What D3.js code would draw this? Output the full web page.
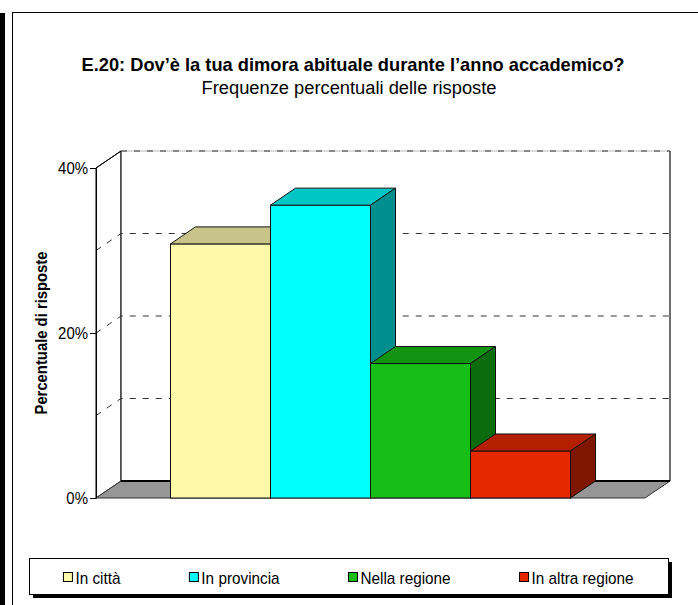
<!DOCTYPE html>
<html>
<head>
<meta charset="utf-8">
<script src="https://cdn.jsdelivr.net/npm/d3@7"></script>
<style>
  body { margin: 0; background: #fff; }
  svg { display: block; font-family: "Liberation Sans", Arial, sans-serif; }
</style>
</head>
<body>
<div id="chart"></div>
<script>
// data
const categories = ["In città", "In provincia", "Nella regione", "In altra regione"];
const values = [30.8, 35.5, 16.3, 5.7];
const tickValues = [0, 20, 40];
const gridValues = [10, 20, 30];
const titleText = "E.20: Dov\u2019è la tua dimora abituale durante l\u2019anno accademico?";
const subtitleText = "Frequenze percentuali delle risposte";
const yLabel = "Percentuale di risposte";

// colours: front, top, side
const fronts = ["#FFFAAA", "#00FFFF", "#18BE18", "#E62800"];
const tops = ["#C8C489", "#00C6C6", "#129412", "#B41F00"];
const sides = ["#8F8C62", "#008F8F", "#0C6B0C", "#7F1600"];

const W = 698, H = 605;
const plot = { left: 96, right: 645, top: 168, bottom: 498 };
const depth = { dx: 25, dy: -17 };
const squeeze = 0.88; // the original text is a bit narrow

// squash a text node horizontally to look like the narrow original glyphs
function narrow(sel, k) {
    sel.each(function () {
        let len = this.getComputedTextLength();
        d3.select(this).attr("textLength", len * (k || squeeze)).attr("lengthAdjust", "spacingAndGlyphs");
    });
}

let svg = d3.select("#chart").append("svg")
    .attr("width", W).attr("height", H);

// outer frame bits
svg.append("rect").attr("x", 0).attr("y", 13).attr("width", 5).attr("height", H - 13).attr("fill", "#000");
svg.append("rect").attr("x", 12.5).attr("y", 12.5).attr("width", W + 10).attr("height", H + 10)
    .attr("fill", "none").attr("stroke", "#000").attr("stroke-width", 1);

// titles
svg.append("text").attr("x", 353).attr("y", 71)
    .attr("text-anchor", "middle").style("font-size", "19px").style("font-weight", "bold")
    .attr("textLength", 543).attr("lengthAdjust", "spacingAndGlyphs")
    .text(titleText);
svg.append("text").attr("x", 349).attr("y", 94)
    .attr("text-anchor", "middle").style("font-size", "18px")
    .attr("textLength", 295).attr("lengthAdjust", "spacingAndGlyphs")
    .text(subtitleText);

let y = d3.scaleLinear().domain([0, 40]).range([plot.bottom, plot.top]);
let x0 = d3.scaleBand().domain(["E.20"]).range([plot.left, plot.right]).paddingOuter(0.18625);
let x1 = d3.scaleBand().domain(categories).range([0, x0.bandwidth()]);

const dx = depth.dx, dy = depth.dy;
const poly = pts => "M" + pts.map(p => p.join(",")).join("L") + "Z";

let g = svg.append("g");

// side wall
g.append("path")
    .attr("d", poly([[plot.left, y(0)], [plot.left, y(40)], [plot.left + dx, y(40) + dy], [plot.left + dx, y(0) + dy]]))
    .attr("fill", "#fff").attr("stroke", "#000");
// back wall
g.append("path")
    .attr("d", poly([[plot.left + dx, y(0) + dy], [plot.left + dx, y(40) + dy], [plot.right + dx, y(40) + dy], [plot.right + dx, y(0) + dy]]))
    .attr("fill", "#fff").attr("stroke", "#bbb");
g.append("line")
    .attr("x1", plot.right + dx).attr("x2", plot.right + dx)
    .attr("y1", y(40) + dy).attr("y2", y(0) + dy)
    .attr("stroke", "#000");
g.append("line")
    .attr("x1", plot.left + dx).attr("x2", plot.left + dx)
    .attr("y1", y(40) + dy).attr("y2", y(0) + dy)
    .attr("stroke", "#000");

// gridlines (dashed) across side and back wall
g.selectAll(".grid").data(gridValues.concat([40])).join("path")
    .attr("class", "grid")
    .attr("d", d => {
        let pts = [[plot.left, y(d)], [plot.left + dx, y(d) + dy], [plot.right + dx, y(d) + dy]];
        if (d === 40) pts = pts.slice(1);
        return "M" + pts.map(p => p.join(",")).join("L");
    })
    .attr("fill", "none").attr("stroke", "#333").attr("stroke-width", 1)
    .attr("stroke-dasharray", "6,7");
g.append("line")
    .attr("x1", plot.left).attr("y1", y(40))
    .attr("x2", plot.left + dx).attr("y2", y(40) + dy)
    .attr("stroke", "#000");

// floor
g.append("path")
    .attr("d", poly([[plot.left, y(0)], [plot.left + dx, y(0) + dy], [plot.right + dx, y(0) + dy], [plot.right, y(0)]]))
    .attr("fill", "#969696").attr("stroke", "#333").attr("stroke-width", 1);
g.append("line")
    .attr("x1", plot.left + dx).attr("x2", plot.right + dx)
    .attr("y1", y(0) + dy).attr("y2", y(0) + dy)
    .attr("stroke", "#000").attr("stroke-width", 2);

// y axis
let yAxis = g.append("g").attr("transform", "translate(" + plot.left + ",0)")
    .call(d3.axisLeft(y).tickValues(tickValues).tickFormat(d => d + "%").tickSize(6).tickSizeOuter(0));
yAxis.select(".domain").attr("stroke", "#000");
yAxis.selectAll(".tick line").attr("stroke", "#000");
yAxis.selectAll(".tick text")
    .attr("x", -8)
    .style("font-size", "17px").style("font-family", "'Liberation Sans', Arial, sans-serif")
    .attr("fill", "#000")
    .call(narrow);

// bars, left to right so later bars hide earlier side faces
let bars = g.selectAll(".bar").data(categories).join("g").attr("class", "bar");
bars.each(function (c, i) {
    let b = d3.select(this);
    let xl = x0("E.20") + x1(c), w = x1.bandwidth();
    let yt = y(values[i]), yb = y(0);
    b.append("rect").attr("x", xl).attr("y", yt).attr("width", w).attr("height", yb - yt)
        .attr("fill", fronts[i]).attr("stroke", "#111").attr("stroke-width", 1);
    b.append("path")
        .attr("d", poly([[xl, yt], [xl + dx, yt + dy], [xl + w + dx, yt + dy], [xl + w, yt]]))
        .attr("fill", tops[i]).attr("stroke", "#111").attr("stroke-linejoin", "round");
    b.append("path")
        .attr("d", poly([[xl + w, yt], [xl + w + dx, yt + dy], [xl + w + dx, yb + dy], [xl + w, yb]]))
        .attr("fill", sides[i]).attr("stroke", "#111").attr("stroke-linejoin", "round");
});

// y axis title
svg.append("text")
    .attr("transform", "translate(47,333) rotate(-90)")
    .attr("text-anchor", "middle").style("font-size", "16px").style("font-weight", "bold")
    .attr("textLength", 163).attr("lengthAdjust", "spacingAndGlyphs")
    .text(yLabel);

// legend
const leg = { x: 29, y: 558, w: 639, h: 36 };
svg.append("rect").attr("x", leg.x + 4).attr("y", leg.y + 4).attr("width", leg.w).attr("height", leg.h).attr("fill", "#000");
svg.append("rect").attr("x", leg.x + 0.5).attr("y", leg.y + 0.5).attr("width", leg.w).attr("height", leg.h)
    .attr("fill", "#fff").attr("stroke", "#000");

let items = svg.selectAll(".leg").data(categories).join("g").attr("class", "leg");
items.append("rect").attr("width", 9).attr("height", 9).attr("y", leg.y + 14.5)
    .attr("fill", (d, i) => fronts[i]).attr("stroke", "#000");
items.append("text").attr("x", 12).attr("y", leg.y + 26)
    .style("font-size", "17px").text(d => d)
    .call(narrow, 0.9);
let widths = [];
items.each(function () { widths.push(12 + +d3.select(this).select("text").attr("textLength")); });
let gap = (leg.w - d3.sum(widths)) / categories.length;
let cx = leg.x + gap / 2;
items.attr("transform", (d, i) => {
    let t = "translate(" + cx + ",0)";
    cx += widths[i] + gap;
    return t;
});
</script>
</body>
</html>
